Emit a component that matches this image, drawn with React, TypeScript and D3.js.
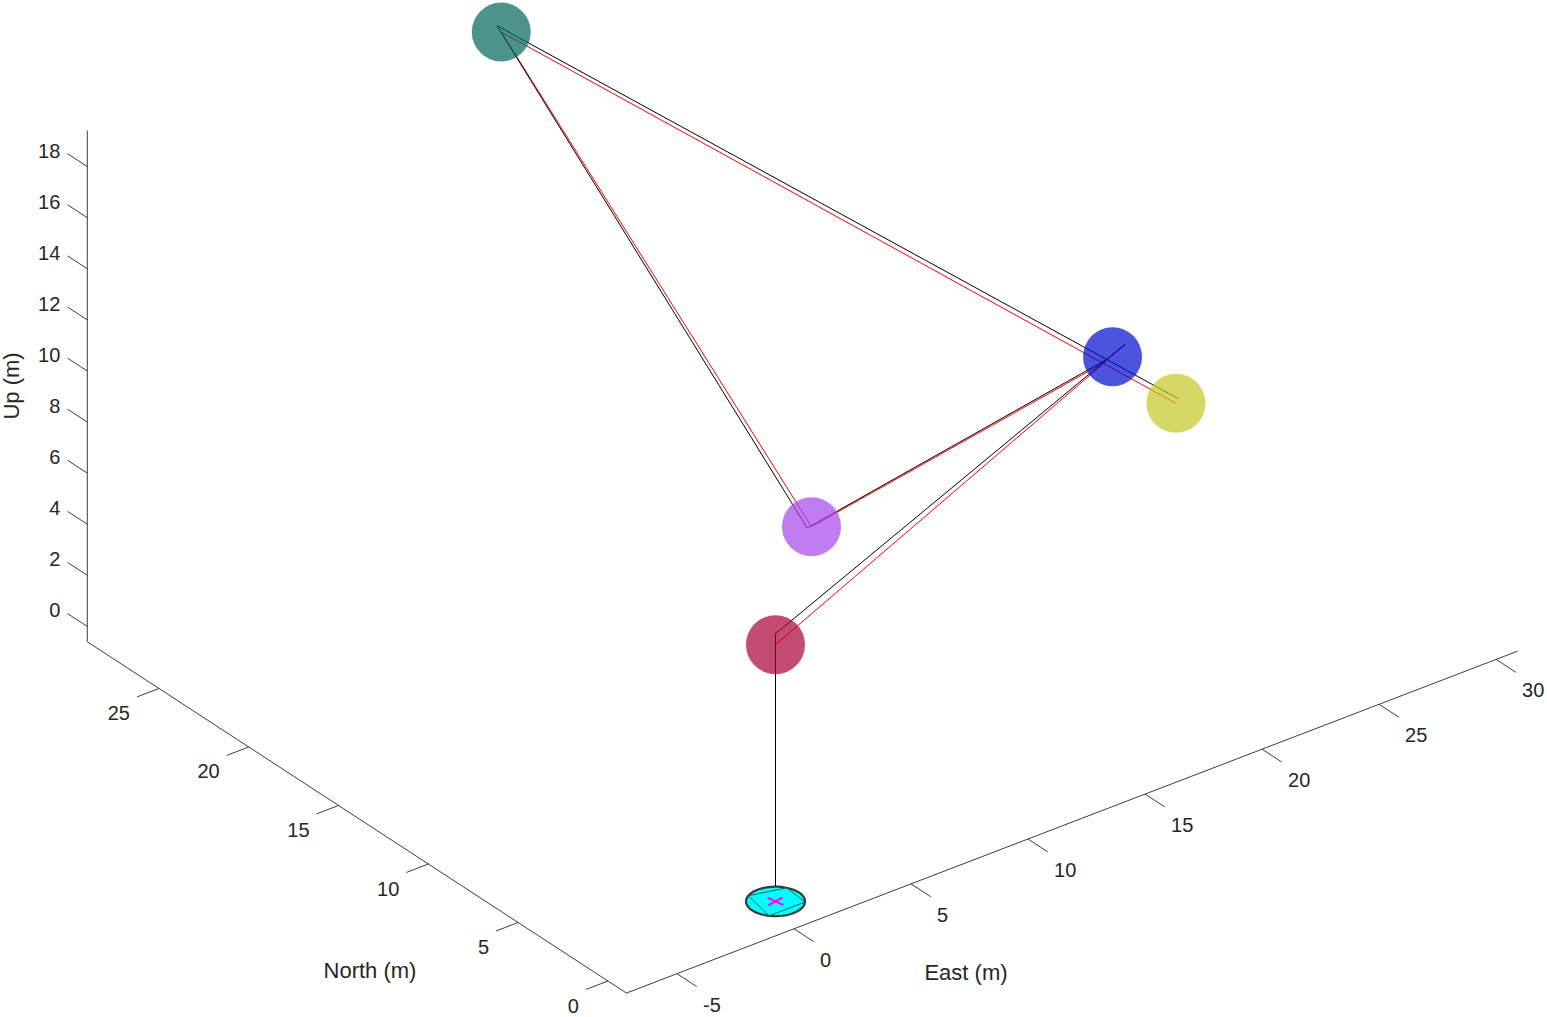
import React from "react";
import * as d3 from "d3";

// ---- View (MATLAB default 3-D view) ----
const AZ = -37.5;
const EL = 30;

// ---- Axis limits & ticks ----
const eastLim = [-7.16, 30.92];
const northLim = [-1.03, 28.99];
const upLim = [-0.6, 19.41];
const eastTicks = [-5, 0, 5, 10, 15, 20, 25, 30];
const northTicks = [0, 5, 10, 15, 20, 25];
const upTicks = [0, 2, 4, 6, 8, 10, 12, 14, 16, 18];

// ---- Waypoint spheres (radius 1 m) ----
const sphereEast = [0, 8, 21, 9, 25];
const sphereNorth = [0, 8.42, 8.6, 27, 10.28];
const sphereUp = [10.05, 8, 10, 18.5, 6];
const sphereColors = ["#ab0035", "#a644ec", "#000cce", "#00665a", "#c3c722"];
const sphereRadius = 1;

// ---- Reference path (red) ----
const refEast = [0, 0, 20.63, 8, 9, 25];
const refNorth = [0, 0, 8.48, 8.42, 27, 10.28];
const refUp = [0, 10.05, 10, 8, 18.5, 6];

// ---- Flown path (black) ----
const actEast = [0, 0, 0.29, 21.33, 20.6, 7.72, 9.04, 25.15];
const actNorth = [0, 0, 0.09, 8.32, 8.32, 8.3, 27.29, 10.34];
const actUp = [0, 10.5, 10.5, 10.5, 10.2, 8.1, 18.6, 6.1];

// ---- Vehicle (disc at origin) ----
const vehicleEast = 0;
const vehicleNorth = 0;
const vehicleUp = 0;
const vehicleRadius = 1;
const meshAngles = [30, 120, 220, 320];
const armAngles = [10, 100];
const armHalfLength = 0.36;

const W = 1547;
const H = 1017;
const ORIGIN_X = 775.5;
const ORIGIN_Y = 901.4;
const PX_PER_M = 29.5;
const FONT = "'Liberation Sans', Arial, Helvetica, sans-serif";
const AXIS_COLOR = "#262626";

const deg = Math.PI / 180;
const ca = Math.cos(AZ * deg);
const sa = Math.sin(AZ * deg);
const ce = Math.cos(EL * deg);
const se = Math.sin(EL * deg);

const hScale = d3.scaleLinear().domain([0, 1]).range([ORIGIN_X, ORIGIN_X + PX_PER_M]);
const vScale = d3.scaleLinear().domain([0, 1]).range([ORIGIN_Y, ORIGIN_Y - PX_PER_M]);

function proj(x: number, y: number, z: number): [number, number] {
  const h = ca * x + sa * y;
  const v = -sa * se * x + ca * se * y + ce * z;
  return [hScale(h), vScale(v)];
}

const line3 = d3.line<[number, number]>().x((d) => d[0]).y((d) => d[1]);

function pathOf(xs: number[], ys: number[], zs: number[]) {
  return line3(xs.map((x, i) => proj(x, ys[i], zs[i])));
}

export default function App() {
  const [e0, e1] = eastLim;
  const [n0, n1] = northLim;
  const [u0, u1] = upLim;

  const circlePts = d3.range(0, 361, 6).map((a) =>
    proj(
      vehicleEast + vehicleRadius * Math.cos(a * deg),
      vehicleNorth + vehicleRadius * Math.sin(a * deg),
      vehicleUp
    )
  );
  const meshPts = meshAngles.map((a) =>
    proj(
      vehicleEast + vehicleRadius * Math.cos(a * deg),
      vehicleNorth + vehicleRadius * Math.sin(a * deg),
      vehicleUp
    )
  );
  const sphereR = hScale(sphereRadius) - hScale(0);

  const axisLine = (a: [number, number, number], b: [number, number, number]) => {
    const p = proj(...a);
    const q = proj(...b);
    return <line x1={p[0]} y1={p[1]} x2={q[0]} y2={q[1]} stroke={AXIS_COLOR} strokeWidth={0.9} />;
  };

  return (
    <svg
      width={W}
      height={H}
      style={{ position: "absolute", left: 0, top: 0, display: "block", background: "#fff" }}
      fontFamily={FONT}
    >
      {/* axes */}
      {axisLine([e0, n0, u0], [e1, n0, u0])}
      {axisLine([e0, n0, u0], [e0, n1, u0])}
      {axisLine([e0, n1, u0], [e0, n1, u1])}

      {/* East ticks */}
      {eastTicks.map((t) => {
        const p = proj(t, n0, u0);
        const q = proj(t, n0 - 1.1, u0);
        return (
          <g key={"e" + t}>
            <line x1={p[0]} y1={p[1]} x2={q[0]} y2={q[1]} stroke={AXIS_COLOR} strokeWidth={0.9} />
            <text x={p[0] + 26} y={p[1] + 31} fontSize={20} fill={AXIS_COLOR} dominantBaseline="central" textAnchor="start">
              {t}
            </text>
          </g>
        );
      })}
      {/* North ticks */}
      {northTicks.map((t) => {
        const p = proj(e0, t, u0);
        const q = proj(e0 - 0.94, t, u0);
        return (
          <g key={"n" + t}>
            <line x1={p[0]} y1={p[1]} x2={q[0]} y2={q[1]} stroke={AXIS_COLOR} strokeWidth={0.9} />
            <text x={p[0] - 29} y={p[1] + 24.5} fontSize={20} fill={AXIS_COLOR} dominantBaseline="central" textAnchor="end">
              {t}
            </text>
          </g>
        );
      })}
      {/* Up ticks */}
      {upTicks.map((t) => {
        const p = proj(e0, n1, t);
        const q = proj(e0, n1 + 1.1, t);
        return (
          <g key={"u" + t}>
            <line x1={p[0]} y1={p[1]} x2={q[0]} y2={q[1]} stroke={AXIS_COLOR} strokeWidth={0.9} />
            <text x={p[0] - 27} y={p[1] - 16} fontSize={20} fill={AXIS_COLOR} dominantBaseline="central" textAnchor="end">
              {t}
            </text>
          </g>
        );
      })}

      {/* axis labels */}
      <text x={966} y={980} fontSize={22} fill={AXIS_COLOR} textAnchor="middle">East (m)</text>
      <text x={370} y={978} fontSize={22} fill={AXIS_COLOR} textAnchor="middle">North (m)</text>
      <text transform="translate(19,386) rotate(-90)" fontSize={22} fill={AXIS_COLOR} textAnchor="middle">Up (m)</text>

      {/* paths */}
      <path d={pathOf(refEast, refNorth, refUp) || ""} fill="none" stroke="#ff0000" strokeWidth={1} />
      <path d={pathOf(actEast, actNorth, actUp) || ""} fill="none" stroke="#000000" strokeWidth={1} />

      {/* vehicle disc */}
      <path d={line3(circlePts) + "Z"} fill="#00ffff" stroke="#3a3a3a" strokeWidth={2.2} />
      <path d={line3(meshPts) + "Z"} fill="none" stroke="#2a5a5a" strokeWidth={1} />
      {armAngles.map((a) => {
        const p = proj(
          vehicleEast - armHalfLength * Math.cos(a * deg),
          vehicleNorth - armHalfLength * Math.sin(a * deg),
          vehicleUp
        );
        const q = proj(
          vehicleEast + armHalfLength * Math.cos(a * deg),
          vehicleNorth + armHalfLength * Math.sin(a * deg),
          vehicleUp
        );
        return <line key={"arm" + a} x1={p[0]} y1={p[1]} x2={q[0]} y2={q[1]} stroke="#ff00ff" strokeWidth={2} />;
      })}

      {/* spheres */}
      {sphereEast.map((x, i) => {
        const c = proj(x, sphereNorth[i], sphereUp[i]);
        return <circle key={"s" + i} cx={c[0]} cy={c[1]} r={sphereR} fill={sphereColors[i]} fillOpacity={0.7} />;
      })}
    </svg>
  );
}
